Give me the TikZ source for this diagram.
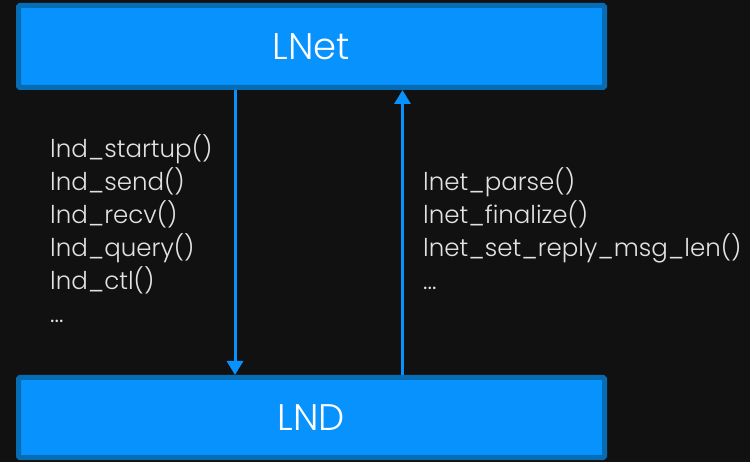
\documentclass[tikz,border=0pt]{standalone}
\usepackage{fontspec}
\setmainfont{Poppins Light}
\usetikzlibrary{arrows.meta}
\definecolor{bg}{HTML}{111111}
\definecolor{boxfill}{HTML}{0792FE}
\definecolor{boxline}{HTML}{066CB4}
\definecolor{txt}{HTML}{E2E2E2}
\tikzset{
  layer/.style={draw=boxline, fill=boxfill, line width=5pt, rounded corners=1.5pt,
    minimum width=586pt, inner sep=0pt, text=white, font=\fontsize{37}{40}\selectfont},
  call/.style={line width=3pt, draw=boxfill, -{Triangle[width=16pt,length=14pt]}},
  calls/.style={anchor=north west, align=left, inner sep=0pt, text=txt,
    font=\fontsize{24.5}{33}\selectfont}
}
\begin{document}
\begin{tikzpicture}[x=1pt,y=-1pt]
  \fill[bg] (0,0) rectangle (750,462);
  \useasboundingbox (0,0) rectangle (750,462);
  \node[layer, minimum height=82pt] (lnet) at (311.5,46.5) {LNet};
  \node[layer, minimum height=80pt] (lnd) at (311.5,417.5) {LND};
  \coordinate (down) at (235,0);
  \coordinate (up) at (402.5,0);
  \draw[call] (lnet.south -| down) -- (lnd.north -| down);
  \draw[call] (lnd.north -| up) -- (lnet.south -| up);
  \node[calls] (lndops) at (50,134.8) {lnd\_startup()\\lnd\_send()\\lnd\_recv()\\lnd\_query()\\lnd\_ctl()\\...};
  \node[calls] (lnetops) at (423,167.8) {lnet\_parse()\\lnet\_finalize()\\lnet\_set\_reply\_msg\_len()\\...};
\end{tikzpicture}
\end{document}
